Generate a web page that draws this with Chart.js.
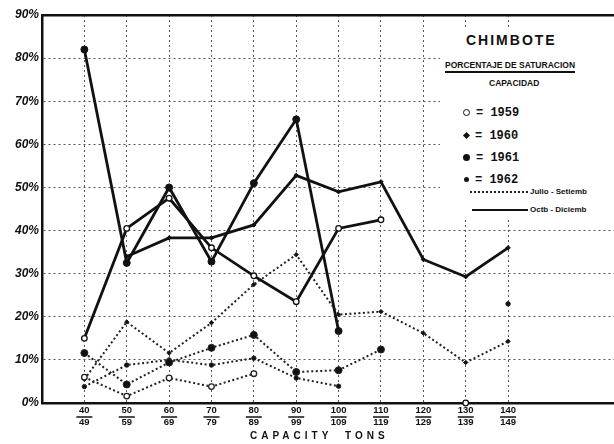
<!DOCTYPE html>
<html>
<head>
<meta charset="utf-8">
<script src="https://cdn.jsdelivr.net/npm/chart.js@4.4.1/dist/chart.umd.min.js"></script>
<style>
    body { margin: 0; background: #fff; }
    #wrap { position: relative; width: 614px; height: 444px; }
    #chimboteChart { position: absolute; left: 0; top: 0; }
    .note { position: absolute; font-family: 'Liberation Sans', Arial, sans-serif; font-weight: bold; color: #111; white-space: nowrap; }
    .yr { font-family: 'Liberation Mono', monospace; font-size: 12px; }
    .mk { display: inline-block; vertical-align: middle; margin-right: 6px; }
</style>
</head>
<body>
<div id="wrap">
    <canvas id="chimboteChart" width="614" height="444"></canvas>

    <div class="note" style="left:440px;top:27px;width:174px;height:190px;background:#fff;"></div>
    <div class="note" style="left:466px;top:32px;font-size:14px;letter-spacing:2px;">CHIMBOTE</div>
    <div class="note" style="left:445px;top:60px;font-size:8.5px;border-bottom:2px solid #111;padding-bottom:1px;">PORCENTAJE DE SATURACION</div>
    <div class="note" style="left:489px;top:78px;font-size:8.5px;">CAPACIDAD</div>

    <div class="note yr" style="left:463px;top:106px;"><span class="mk" style="width:5px;height:5px;border:1.5px solid #111;border-radius:50%;background:#fff;"></span>= 1959</div>
    <div class="note yr" style="left:463px;top:129px;"><span class="mk" style="width:5px;height:5px;background:#111;transform:rotate(45deg);margin-left:1px;"></span>= 1960</div>
    <div class="note yr" style="left:463px;top:151px;"><span class="mk" style="width:7px;height:7px;background:#111;border-radius:50%;"></span>= 1961</div>
    <div class="note yr" style="left:463px;top:173px;"><span class="mk" style="width:5px;height:5px;background:#111;border-radius:50%;margin-left:1px;"></span>= 1962</div>

    <div class="note" style="left:470px;top:187px;font-size:8px;"><span class="mk" style="width:58px;border-top:2px dotted #222;margin-right:2px;"></span>Julio - Setiemb</div>
    <div class="note" style="left:472px;top:205px;font-size:8px;"><span class="mk" style="width:56px;border-top:2.5px solid #111;margin-right:2px;"></span>Octb - Diciemb</div>

    <div class="note" style="left:250px;top:430px;font-size:10px;letter-spacing:4px;word-spacing:6px;">CAPACITY TONS</div>
</div>

<script>
const capacities = [40, 50, 60, 70, 80, 90, 100, 110, 120, 130, 140];
const capacityUpper = [49, 59, 69, 79, 89, 99, 109, 119, 129, 139, 149];
const percentTicks = [0, 10, 20, 30, 40, 50, 60, 70, 80, 90];

// Octubre - Diciembre (solid lines)
const octDic1959 = [15, 40.5, 47.5, 36, 29.5, 23.5, 40.5, 42.5, null, 0, null];
const octDic1960 = [null, 34, 38.3, 38.3, 41.3, 52.8, 49, 51.3, 33.3, 29.3, 36];
const octDic1961 = [82, 32.5, 50, 32.8, 51, 65.8, 16.7, null, null, null, null];
const octDic1962 = [null, null, null, null, null, null, null, null, null, null, 23];

// Julio - Setiembre (dotted lines)
const julSet1959 = [6, 1.6, 5.8, 3.8, 6.8, null, null, null, null, null, null];
const julSet1960 = [5.5, 18.8, 11.6, 18.6, 27.5, 34.4, 20.5, 21.2, 16.2, 9.4, 14.3];
const julSet1961 = [11.6, 4.3, 9.4, 12.8, 15.8, 7.2, 7.6, 12.4, null, null, null];
const julSet1962 = [3.8, 8.8, 10, 8.8, 10.4, 5.8, 3.9, null, null, null, null];

const fontFamily = "'Liberation Sans', Arial, sans-serif";

function toPoints(values) {
    return capacities.map((c, i) => ({ x: c, y: values[i] }));
}

const markers = {
    1959: { pointStyle: 'circle', pointRadius: 2.8, pointBackgroundColor: '#fff', pointBorderWidth: 1.3 },
    1960: { pointStyle: 'rectRot', pointRadius: 2.2, pointBackgroundColor: '#111', pointBorderWidth: 1 },
    1961: { pointStyle: 'circle', pointRadius: 3.5, pointBackgroundColor: '#111', pointBorderWidth: 1 },
    1962: { pointStyle: 'circle', pointRadius: 2.2, pointBackgroundColor: '#111', pointBorderWidth: 1 },
};

function solidSeries(year, values) {
    return Object.assign({
        label: year + ' Octb - Diciemb',
        data: toPoints(values),
        borderColor: '#111',
        pointBorderColor: '#111',
        borderWidth: 2.8,
        tension: 0,
        clip: false,
    }, markers[year]);
}

function dottedSeries(year, values) {
    return Object.assign({
        label: year + ' Julio - Setiemb',
        data: toPoints(values),
        borderColor: '#222',
        pointBorderColor: '#222',
        borderWidth: 2,
        borderDash: [2, 2.5],
        tension: 0,
        clip: false,
    }, markers[year]);
}

// short bar between the two numbers of each capacity range
const fractionBars = {
    id: 'fractionBars',
    afterDraw(chart) {
        const { ctx } = chart;
        const x = chart.scales.x;
        ctx.save();
        ctx.strokeStyle = '#111';
        ctx.lineWidth = 1.5;
        capacities.forEach(c => {
            const px = x.getPixelForValue(c);
            ctx.beginPath();
            ctx.moveTo(px - 8, x.top + 14);
            ctx.lineTo(px + 8, x.top + 14);
            ctx.stroke();
        });
        ctx.restore();
    }
};

new Chart(document.getElementById('chimboteChart'), {
    type: 'line',
    data: {
        datasets: [
            dottedSeries(1959, julSet1959),
            dottedSeries(1960, julSet1960),
            dottedSeries(1961, julSet1961),
            dottedSeries(1962, julSet1962),
            solidSeries(1959, octDic1959),
            solidSeries(1960, octDic1960),
            solidSeries(1961, octDic1961),
            solidSeries(1962, octDic1962),
        ],
    },
    options: {
        responsive: false,
        animation: false,
        layout: { padding: 0, autoPadding: false },
        plugins: {
            legend: { display: false },
            tooltip: { enabled: false },
        },
        scales: {
            x: {
                type: 'linear',
                min: 30,
                max: 165,
                afterBuildTicks: scale => { scale.ticks = capacities.map(v => ({ value: v })); },
                afterFit: scale => { scale.height = 41; },
                grid: { color: '#555', lineWidth: 1, drawTicks: false },
                border: { display: true, color: '#111', width: 2.5, dash: [2, 3] },
                ticks: {
                    autoSkip: false,
                    maxRotation: 0,
                    padding: 2,
                    color: '#111',
                    font: { family: fontFamily, size: 9.5, weight: 'bold', lineHeight: 1.2 },
                    callback: v => {
                        const i = capacities.indexOf(v);
                        return i < 0 ? '' : [String(v), String(capacityUpper[i])];
                    },
                },
            },
            xTop: {
                type: 'linear',
                position: 'top',
                min: 30,
                max: 165,
                afterFit: scale => { scale.height = 15; },
                grid: { display: false, drawTicks: false },
                border: { display: true, color: '#111', width: 2.5 },
                ticks: { display: false },
            },
            y: {
                min: 0,
                max: 90,
                afterBuildTicks: scale => { scale.ticks = percentTicks.map(v => ({ value: v })); },
                afterFit: scale => { scale.width = 42; },
                grid: { color: '#555', lineWidth: 1, drawTicks: false },
                border: { display: true, color: '#111', width: 2.5, dash: [2, 3] },
                ticks: {
                    padding: 3,
                    color: '#111',
                    font: { family: fontFamily, size: 12, style: 'italic', weight: 'bold' },
                    callback: v => v + '%',
                },
            },
        },
    },
    plugins: [fractionBars],
});
</script>
</body>
</html>
